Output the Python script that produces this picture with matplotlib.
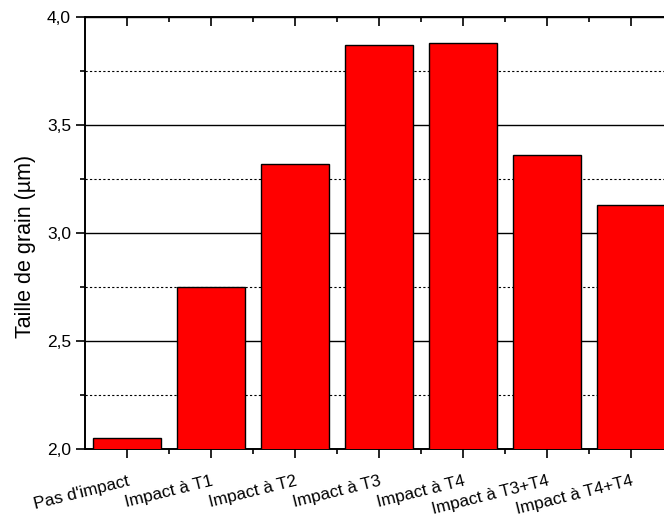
import numpy as np
import matplotlib.pyplot as plt
from matplotlib.ticker import MultipleLocator, FuncFormatter

plt.rcParams['font.family'] = ['Liberation Sans', 'DejaVu Sans']

categories = ["Pas d'impact", "Impact à T1", "Impact à T2", "Impact à T3",
              "Impact à T4", "Impact à T3+T4", "Impact à T4+T4"]
grain_size = [2.05, 2.75, 3.32, 3.87, 3.88, 3.36, 3.13]

fig = plt.figure(figsize=(6.64, 5.16), dpi=100)
# the plot frame runs past the right edge of the figure, as in the original
ax = fig.add_axes([85 / 664, 67 / 516, 588 / 664, 432 / 516])

x = np.arange(len(categories))
ax.bar(x, grain_size, width=0.8, color='red', edgecolor='black', linewidth=1.0, zorder=3)

ax.set_xlim(-0.5, len(categories) - 0.5)
ax.set_ylim(2.0, 4.0)

# grid: solid on major, dotted on minor
ax.yaxis.set_major_locator(MultipleLocator(0.5))
ax.yaxis.set_minor_locator(MultipleLocator(0.25))
ax.yaxis.set_major_formatter(FuncFormatter(lambda v, p: f"{v:.1f}".replace('.', ',')))
ax.grid(axis='y', which='major', color='black', linestyle='-', linewidth=1.0, zorder=0)
ax.grid(axis='y', which='minor', color='black', linestyle=(0, (2, 2)), linewidth=0.8, zorder=0)

ax.set_xticks(x)
ax.set_xticks(x[:-1] + 0.5, minor=True)
ax.set_xticklabels(categories, rotation=14, ha='right', va='top', rotation_mode='anchor')

for s in ['left', 'bottom', 'top']:
    ax.spines[s].set_linewidth(1.4)
ax.spines['right'].set_visible(False)

ax.tick_params(axis='y', which='major', direction='out', length=6.5, width=1.2, labelsize=12.5)
ax.tick_params(axis='y', which='minor', direction='out', length=3.5, width=1.2)
ax.tick_params(axis='x', which='major', direction='out', length=6.5, width=1.2, labelsize=12.3,
               top=True, pad=11)
ax.tick_params(axis='x', which='minor', direction='out', length=3.5, width=1.2, top=True)
# top ticks point inward
for t in ax.xaxis.get_major_ticks() + ax.xaxis.get_minor_ticks():
    t.tick2line.set_marker(3)

ax.set_ylabel("Taille de grain (µm)", fontsize=15.5)
ax.yaxis.set_label_coords(-0.083, 0.468)

fig.savefig("out.png", dpi=100)
